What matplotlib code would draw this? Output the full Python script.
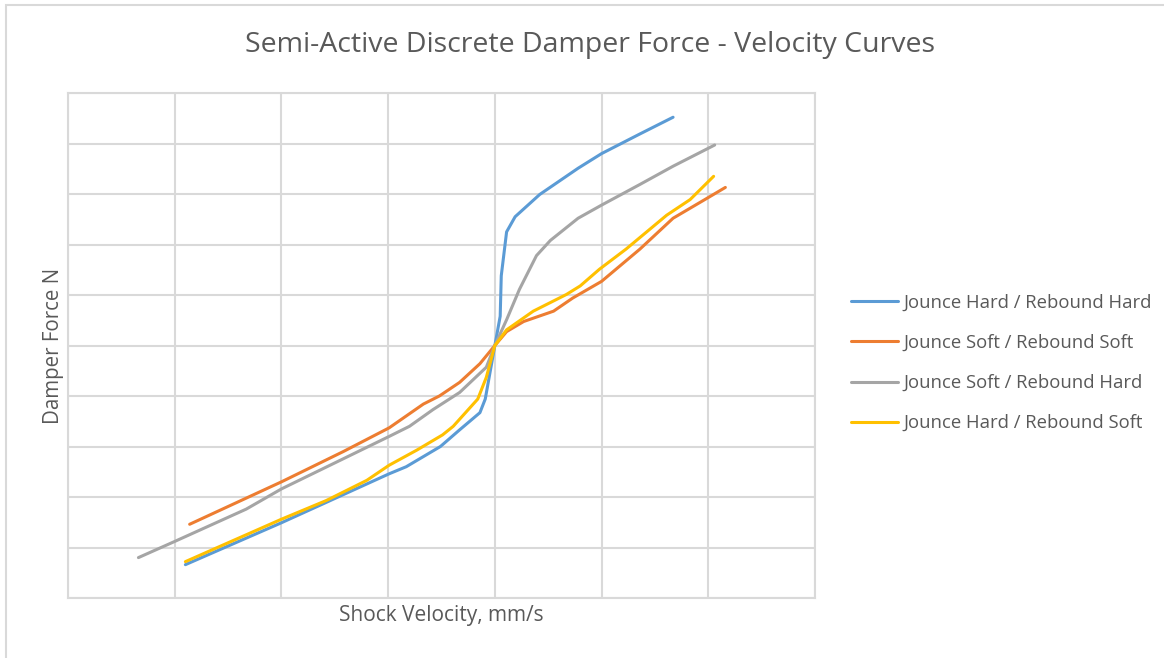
import matplotlib.pyplot as plt
from matplotlib.patches import Rectangle

# shock velocity (mm/s) and damper force (N)
hh_v = [-290, -200, -99, -83, -51, -33, -14, -9, 0, 5, 6, 11, 19, 42, 78, 100, 136, 167]
hh_f = [-4340, -3510, -2540, -2400, -2000, -1670, -1330, -1060, 0, 580, 1380, 2250, 2550, 2990, 3510, 3800, 4190, 4520]

ss_v = [-286, -200, -142, -99, -67, -52, -33, -14, 0, 11, 27, 55, 73, 100, 136, 167, 200, 216]
ss_f = [-3540, -2700, -2100, -1630, -1160, -1000, -730, -360, 0, 275, 475, 680, 940, 1270, 1910, 2520, 2930, 3130]

sh_v = [-334, -300, -233, -200, -99, -80, -58, -33, -8, 0, 11, 23, 39, 52, 78, 100, 136, 167, 206]
sh_f = [-4200, -3880, -3240, -2840, -1800, -1600, -1270, -930, -430, 0, 510, 1110, 1780, 2080, 2520, 2780, 3190, 3550, 3970]

hs_v = [-290, -200, -158, -120, -99, -73, -49, -39, -16, -8, 0, 11, 36, 67, 80, 98, 123, 161, 183, 205]
hs_f = [-4280, -3440, -3070, -2670, -2370, -2070, -1770, -1600, -1060, -630, 0, 310, 680, 1010, 1180, 1510, 1910, 2580, 2890, 3350]

series = [
    ('Jounce Hard / Rebound Hard', hh_v, hh_f, '#5B9BD5'),
    ('Jounce Soft / Rebound Soft', ss_v, ss_f, '#ED7D31'),
    ('Jounce Soft / Rebound Hard', sh_v, sh_f, '#A5A5A5'),
    ('Jounce Hard / Rebound Soft', hs_v, hs_f, '#FFC000'),
]

plt.rcParams['font.family'] = ['Open Sans', 'DejaVu Sans']

fig = plt.figure(figsize=(11.64, 6.58), dpi=100)
ax = fig.add_axes([68 / 1164, 1 - 598 / 658, (815 - 68) / 1164, (598 - 93) / 658])

for name, v, f, c in series:
    ax.plot(v, f, color=c, lw=2.2, label=name, solid_capstyle='round')

ax.set_xlim(-400, 300)
ax.set_ylim(-5000, 5000)
ax.set_xticks(range(-400, 301, 100))
ax.set_yticks(range(-5000, 5001, 1000))
ax.tick_params(length=0, labelbottom=False, labelleft=False)
ax.grid(True, color='#D9D9D9', lw=1.5)
for s in ax.spines.values():
    s.set_color('#D9D9D9')
    s.set_linewidth(1.5)

ax.set_xlabel('Shock Velocity, mm/s', fontsize=15, color='#595959', labelpad=5)
ax.set_ylabel('Damper Force N', fontsize=14.8, color='#595959', labelpad=3)
fig.text(590 / 1164, 1 - 45 / 658, 'Semi-Active Discrete Damper Force - Velocity Curves',
         ha='center', va='center', fontsize=20.5, color='#595959')

ax.legend(loc='center left', bbox_to_anchor=(842 / 1164, 1 - 363 / 658),
          bbox_transform=fig.transFigure, frameon=False, fontsize=13.3, borderpad=0,
          labelcolor='#595959', handlelength=2.55, handletextpad=0.27, labelspacing=1.2)

fig.patches.append(Rectangle((6 / 1164, -0.1), 1.2, 1 - 5 / 658 + 0.1, transform=fig.transFigure,
                             fill=False, edgecolor='#D9D9D9', lw=1.5))

plt.savefig('out.png', dpi=100)
plt.close(fig)
